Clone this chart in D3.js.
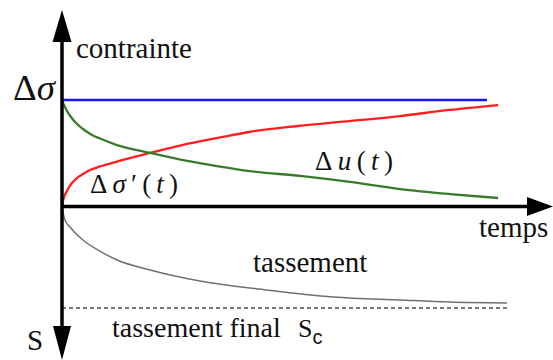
<!DOCTYPE html>
<html>
<head>
<meta charset="utf-8">
<script src="https://cdn.jsdelivr.net/npm/d3@7"></script>
<style>
  html, body { margin: 0; padding: 0; background: #fff; }
  svg { display: block; }
</style>
</head>
<body>
<svg id="chart" width="553" height="360"></svg>
<script>
// Consolidation: total stress, effective stress, pore pressure and settlement over time
const totalStressTime = [0, 95.5];
const totalStress = [1, 1];

const effStressTime = [0, 0.22, 0.67, 1.35, 2.25, 3.37, 4.72, 6.29, 8.54, 12.36, 19.8, 27, 35, 42, 53, 65, 76, 87, 98];
const effStress = [0, 0.056, 0.112, 0.168, 0.224, 0.271, 0.308, 0.346, 0.379, 0.425, 0.505, 0.579, 0.645, 0.701, 0.757, 0.804, 0.850, 0.907, 0.953];

const porePressTime = [0, 0.45, 1.12, 2.02, 3.15, 4.72, 6.74, 8.54, 12.36, 19.8, 27.2, 34.8, 42.2, 53.5, 64.7, 76, 87.2, 98];
const porePress = [1.0, 0.953, 0.897, 0.841, 0.785, 0.729, 0.673, 0.640, 0.579, 0.505, 0.439, 0.383, 0.336, 0.290, 0.234, 0.168, 0.121, 0.084];

const settleTime = [0, 0.22, 0.67, 1.8, 4.7, 8.5, 12.4, 19.8, 31, 46, 61, 76, 87, 100];
const settlement = [0, 0.05, 0.129, 0.198, 0.327, 0.436, 0.525, 0.624, 0.733, 0.822, 0.891, 0.921, 0.941, 0.950];

const finalSettleTime = [0, 100];
const finalSettle = [1, 1];

const SERIF = "'Liberation Serif', 'DejaVu Serif', 'Times New Roman', serif";

const svg = d3.select("#chart");

const x = d3.scaleLinear().domain([0, 100]).range([62, 507]);
const yStress = d3.scaleLinear().domain([0, 1]).range([207, 100]);
const ySettle = d3.scaleLinear().domain([0, 1]).range([207, 308]);

const zip = (ts, vs) => ts.map((t, i) => [t, vs[i]]);

const stressLine = d3.line().x(d => x(d[0])).y(d => yStress(d[1])).curve(d3.curveMonotoneX);
const settleLine = d3.line().x(d => x(d[0])).y(d => ySettle(d[1])).curve(d3.curveMonotoneX);

// final settlement (dashed)
svg.append("path")
  .attr("d", settleLine(zip(finalSettleTime, finalSettle)))
  .attr("fill", "none").attr("stroke", "#4a4a4a").attr("stroke-width", 1.3)
  .attr("stroke-dasharray", "4,3");

// settlement curve
svg.append("path")
  .attr("d", settleLine(zip(settleTime, settlement)))
  .attr("fill", "none").attr("stroke", "#707070").attr("stroke-width", 1.5);

// total stress
svg.append("path")
  .attr("d", stressLine(zip(totalStressTime, totalStress)))
  .attr("fill", "none").attr("stroke", "#1414ff").attr("stroke-width", 2.6);

// effective stress
svg.append("path")
  .attr("d", stressLine(zip(effStressTime, effStress)))
  .attr("fill", "none").attr("stroke", "#ff1e1e").attr("stroke-width", 2.3);

// excess pore pressure
svg.append("path")
  .attr("d", stressLine(zip(porePressTime, porePress)))
  .attr("fill", "none").attr("stroke", "#3b7a2c").attr("stroke-width", 2.3);

// axes with arrowheads
const x0 = x(0), y0 = yStress(0);
const axes = svg.append("g").attr("fill", "#000").attr("stroke", "#000");
axes.append("line").attr("x1", x0).attr("x2", x0).attr("y1", 38).attr("y2", 330)
  .attr("stroke-width", 3.5);
axes.append("line").attr("x1", x0).attr("x2", 530).attr("y1", y0 - 0.5).attr("y2", y0 - 0.5)
  .attr("stroke-width", 3.5);
axes.append("path").attr("stroke", "none")
  .attr("d", `M${x0},10 L${x0 + 9.5},42 L${x0 - 9.5},42 Z`);
axes.append("path").attr("stroke", "none")
  .attr("d", `M${x0},360 L${x0 + 9},326 L${x0 - 9},326 Z`);
axes.append("path").attr("stroke", "none")
  .attr("d", `M553,${y0 - 0.5} L527,${y0 - 10} L527,${y0 + 9} Z`);

// labels
const label = (px, py, size, str) => svg.append("text")
  .attr("x", px).attr("y", py).attr("font-size", size)
  .attr("font-family", SERIF).attr("fill", "#111").text(str);

label(76, 58, 29, "contrainte");
label(479, 237, 29, "temps");
label(253, 272, 29, "tassement");
label(27, 350, 29, "S");

const fin = label(112, 337, 28, null);
fin.append("tspan").text("tassement final");
fin.append("tspan").attr("x", 298).attr("font-size", 26).text("S");
fin.append("tspan").attr("dy", 7).attr("font-size", 20)
  .attr("font-family", "'Liberation Sans', Arial, sans-serif").text("c");

const ds = label(13, 100, 36, null)
  .attr("textLength", 42).attr("lengthAdjust", "spacingAndGlyphs");
ds.append("tspan").text("Δ");
ds.append("tspan").attr("font-style", "italic").text("σ");

const dse = label(90, 193, 27, null)
  .attr("textLength", 88).attr("lengthAdjust", "spacing");
dse.append("tspan").text("Δ");
dse.append("tspan").attr("font-style", "italic").text("σ");
dse.append("tspan").text("′(");
dse.append("tspan").attr("font-style", "italic").text("t");
dse.append("tspan").text(")");

const du = label(315, 170, 27, null)
  .attr("textLength", 78).attr("lengthAdjust", "spacing");
du.append("tspan").text("Δ");
du.append("tspan").attr("font-style", "italic").text("u");
du.append("tspan").text("(");
du.append("tspan").attr("font-style", "italic").text("t");
du.append("tspan").text(")");
</script>
</body>
</html>
